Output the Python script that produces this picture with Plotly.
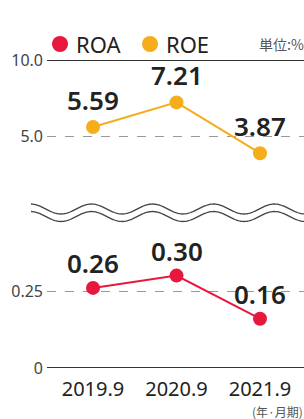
import math
import plotly.graph_objects as go

# ---- data ----
periods = ["2019.9", "2020.9", "2021.9"]
roa = [0.26, 0.30, 0.16]
roe = [5.59, 7.21, 3.87]
roa_labels = ["0.26", "0.30", "0.16"]
roe_labels = ["5.59", "7.21", "3.87"]
series_names = ["ROA", "ROE"]
top_ticks = [5, 10]
top_ticktext = ["5.0", "10.0"]
bottom_ticks = [0, 0.25]
bottom_ticktext = ["0", "0.25"]
unit_label = "単位:%"
period_label = "(年·月期)"

W, H = 304, 419
RED = "#e8173d"
ORANGE = "#f6ad1c"
FONT = "Noto Sans, Noto Sans CJK JP, sans-serif"
JPFONT = "Noto Sans CJK JP, Noto Sans, sans-serif"

xpos = list(range(len(periods)))


def px_x(px):
    return px / W


def px_y(py):
    return 1 - py / H


# plot geometry (pixels)
left_px = 47
top_y0, top_y1 = 60, 175          # top panel pixel extents
bot_y0, bot_y1 = 230, 368         # bottom panel pixel extents
top_scale = 15.2                  # px per unit (top)
bot_scale = 308.0                 # px per unit (bottom)
x_scale = 83.5
x_first = 93

fig = go.Figure()

fig.add_trace(go.Scatter(
    x=xpos, y=roe, mode="lines+markers", name=series_names[1],
    xaxis="x", yaxis="y",
    line=dict(color=ORANGE, width=2),
    marker=dict(color=ORANGE, size=14),
    cliponaxis=False, showlegend=False,
))
fig.add_trace(go.Scatter(
    x=xpos, y=roa, mode="lines+markers", name=series_names[0],
    xaxis="x", yaxis="y2",
    line=dict(color=RED, width=2),
    marker=dict(color=RED, size=14),
    cliponaxis=False, showlegend=False,
))

annotations = []
for p, v, t in zip(xpos, roe, roe_labels):
    annotations.append(dict(x=p, y=v, xref="x", yref="y", text=t, showarrow=False,
                            yshift=27, font=dict(family=FONT, size=26, color="#222", weight=600)))
for p, v, t in zip(xpos, roa, roa_labels):
    annotations.append(dict(x=p, y=v, xref="x", yref="y2", text=t, showarrow=False,
                            yshift=25, font=dict(family=FONT, size=26, color="#222", weight=600)))

# legend (custom)
legend_items = [(series_names[0], RED, 60), (series_names[1], ORANGE, 150)]
shapes = []
for name, col, cx in legend_items:
    shapes.append(dict(type="circle", xref="paper", yref="paper",
                       x0=px_x(cx - 8), x1=px_x(cx + 8), y0=px_y(52), y1=px_y(36),
                       fillcolor=col, line=dict(width=0)))
    annotations.append(dict(x=px_x(cx + 14), y=px_y(44), xref="paper", yref="paper",
                            xanchor="left", yanchor="middle", text=name, showarrow=False,
                            font=dict(family=FONT, size=22, color="#222")))

annotations.append(dict(x=px_x(306), y=px_y(44), xref="paper", yref="paper",
                        xanchor="right", yanchor="middle", text=unit_label, showarrow=False,
                        font=dict(family=JPFONT, size=14, color="#555")))
annotations.append(dict(x=px_x(305), y=px_y(411), xref="paper", yref="paper",
                        xanchor="right", yanchor="middle", text=period_label, showarrow=False,
                        font=dict(family=JPFONT, size=12, color="#555")))

# solid axis lines
shapes.append(dict(type="line", xref="x domain", yref="y", x0=0, x1=1, y0=10, y1=10,
                   line=dict(color="#333", width=1.8)))
shapes.append(dict(type="line", xref="x domain", yref="y2", x0=0, x1=1, y0=0, y1=0,
                   line=dict(color="#333", width=1.8)))

# wavy break marks
def wave_path(yc, amp=5.0, period=61.0, x0=31.0, x1=306.0):
    pts = []
    x = x0
    while x <= x1:
        py = yc - amp * math.cos(2 * math.pi * (x - 30.5) / period)
        pts.append((px_x(x), px_y(py)))
        x += 1.5
    return "M " + " L ".join(f"{a:.5f},{b:.5f}" for a, b in pts)

for yc in (209.0, 216.5):
    shapes.append(dict(type="path", xref="paper", yref="paper", path=wave_path(yc),
                       line=dict(color="#444", width=1.3)))

fig.update_layout(
    width=W, height=H,
    margin=dict(l=0, r=0, t=0, b=0, autoexpand=False),
    paper_bgcolor="white", plot_bgcolor="white",
    showlegend=False,
    xaxis=dict(
        domain=[px_x(left_px), 1], anchor="y2",
        range=[(left_px - x_first) / x_scale, (W - x_first) / x_scale],
        tickvals=xpos, ticktext=periods,
        showgrid=False, zeroline=False, showline=False, automargin=False,
        ticks="", tickfont=dict(family=FONT, size=20, color="#222"),
        ticklabelstandoff=7,
    ),
    yaxis=dict(
        domain=[px_y(top_y1), px_y(top_y0)],
        range=[10 - (top_y1 - top_y0) / top_scale, 10],
        tickvals=top_ticks, ticktext=top_ticktext, automargin=False,
        showgrid=True, gridcolor="#999", griddash="dash", gridwidth=1,
        zeroline=False, showline=False, ticks="",
        tickfont=dict(family=FONT, size=16, color="#444"),
        ticklabelstandoff=3,
    ),
    yaxis2=dict(
        domain=[px_y(bot_y1), px_y(bot_y0)],
        range=[0, (bot_y1 - bot_y0) / bot_scale],
        tickvals=bottom_ticks, ticktext=bottom_ticktext, automargin=False,
        showgrid=True, gridcolor="#999", griddash="dash", gridwidth=1,
        zeroline=False, showline=False, ticks="",
        tickfont=dict(family=FONT, size=16, color="#444"),
        ticklabelstandoff=3,
    ),
    shapes=shapes,
    annotations=annotations,
)

fig.write_html(
    "out.html",
    config={"displayModeBar": False},
    post_script="document.body.style.margin='0';document.body.style.overflow='hidden';",
)
